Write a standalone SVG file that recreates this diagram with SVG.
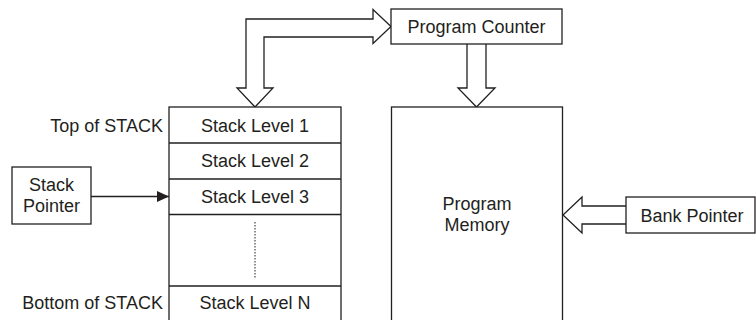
<svg xmlns="http://www.w3.org/2000/svg" width="756" height="320" viewBox="0 0 756 320">
<style>
.box{fill:#fff;stroke:#231f20;stroke-width:1.3}
.arr{fill:#fff;stroke:#231f20;stroke-width:1.3;stroke-linejoin:miter}
.ln{fill:none;stroke:#231f20;stroke-width:1.3}
text{font-family:"Liberation Sans",Arial,Helvetica,sans-serif;font-size:18px;fill:#231f20}
.c{text-anchor:middle}
.r{text-anchor:end}
</style>
<defs>
<marker id="ah" markerWidth="12" markerHeight="11" refX="12" refY="5.5" orient="auto" markerUnits="userSpaceOnUse">
<path d="M0,0 L12,5.5 L0,11 Z" fill="#231f20"/>
</marker>
</defs>
<rect width="756" height="320" fill="#fff"/>
<g id="connectors">
<path class="arr" d="M246,88 L246,19 L373,19 L373,9.5 L391,26.5 L373,43.5 L373,37 L264,37 L264,88 L273,88 L255,107 L237,88 Z"/>
<path class="arr" d="M467,44 L467,88 L458,88 L476.5,107 L495,88 L486,88 L486,44"/>
<path class="arr" d="M626,206 L582,206 L582,197 L563,215 L582,233 L582,224 L626,224"/>
<line class="ln" x1="91" y1="196.5" x2="169" y2="196.5" marker-end="url(#ah)"/>
</g>
<g id="program-counter">
<rect class="box" x="391" y="9" width="171" height="35"/>
<text class="c" x="476.5" y="33">Program Counter</text>
</g>
<g id="program-memory">
<rect class="box" x="391.5" y="107" width="171" height="220"/>
<text class="c" x="477" y="210">Program</text>
<text class="c" x="477" y="231">Memory</text>
</g>
<g id="bank-pointer">
<rect class="box" x="626" y="197" width="129" height="36"/>
<text class="c" x="692" y="221.5">Bank Pointer</text>
</g>
<g id="stack">
<rect class="box" x="169" y="107" width="172" height="220"/>
<line class="ln" x1="169" y1="143" x2="341" y2="143"/>
<line class="ln" x1="169" y1="179" x2="341" y2="179"/>
<line class="ln" x1="169" y1="214.5" x2="341" y2="214.5"/>
<line class="ln" x1="169" y1="286" x2="341" y2="286"/>
<line x1="255" y1="222" x2="255" y2="279" stroke="#231f20" stroke-width="1" stroke-dasharray="1.5,1.5"/>
<text class="c" x="255" y="131.5">Stack Level 1</text>
<text class="c" x="255" y="167">Stack Level 2</text>
<text class="c" x="255" y="202.5">Stack Level 3</text>
<text class="c" x="255" y="309">Stack Level N</text>
</g>
<g id="stack-labels">
<text class="r" x="163" y="131.5">Top of STACK</text>
<text class="r" x="163" y="309">Bottom of STACK</text>
</g>
<g id="stack-pointer">
<rect class="box" x="12" y="167" width="79" height="57"/>
<text class="c" x="51.5" y="190.5">Stack</text>
<text class="c" x="51.5" y="211.5">Pointer</text>
</g>
</svg>
